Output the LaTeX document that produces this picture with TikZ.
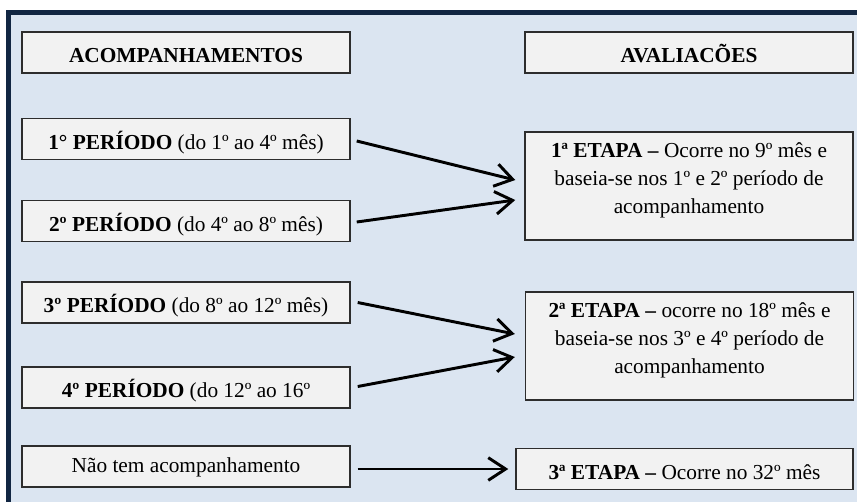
\documentclass[tikz,border=0pt]{standalone}
\usepackage{fontspec}
\setmainfont{Liberation Serif}
\usetikzlibrary{arrows.meta,calc}

\definecolor{framefill}{RGB}{219,229,241}
\definecolor{framenavy}{RGB}{17,38,66}
\definecolor{boxfill}{RGB}{242,242,242}
\definecolor{boxline}{RGB}{45,45,45}

\tikzset{every picture/.style={line width=0.75pt},
	boxbase/.style={draw=boxline, fill=boxfill, line width=1.1pt, inner sep=0pt, align=center,
		font=\fontsize{16}{21}\selectfont, minimum width=246pt, minimum height=31pt},
	box/.style={boxbase, text height=17pt, text depth=1.5pt},
	tallbox/.style={boxbase, minimum height=81pt},
	arr/.style={line width=2.2pt, -{Straight Barb[length=13pt,width=17pt,line width=2.2pt]}}
}

\begin{document}
\begin{tikzpicture}[x=0.75pt,y=0.75pt,yscale=-1,xscale=1]
	\useasboundingbox (0,0) rectangle (857,501);

	%Shape: Rectangle [frame]
	\draw [draw=framenavy, fill=framefill, line width=3.8pt] (8.5,12.5) rectangle (880,530);

	% Text Node
	\node [box] (acomp) at (186,52.5) {\textbf{ACOMPANHAMENTOS}};
	% Text Node
	\node [box] (aval) at (689,52.5) {\textbf{AVALIACÕES}};

	% Text Node
	\node [box] (per1) at (186,139) {\textbf{1° PERÍODO} (do 1º ao 4º mês)};
	% Text Node
	\node [box] (per2) at (186,221) {\textbf{2º PERÍODO} (do 4º ao 8º mês)};
	% Text Node
	\node [box] (per3) at (186,302.5) {\textbf{3º PERÍODO} (do 8º ao 12º mês)};
	% Text Node
	\node [box] (per4) at (186,387.5) {\textbf{4º PERÍODO} (do 12º ao 16º};
	% Text Node
	\node [box, text height=11pt, text depth=2pt] (nada) at (186,466.5) {Não tem acompanhamento};

	% Text Node
	\node [tallbox] (etapa1) at (689,186) {\textbf{1ª ETAPA –} Ocorre no 9º mês e\\baseia-se nos 1º e 2º período de\\acompanhamento\rule[-12.5pt]{0pt}{0pt}};
	% Text Node
	\node [tallbox] (etapa2) at (689.5,346) {\textbf{2ª ETAPA –} ocorre no 18º mês e\\baseia-se nos 3º e 4º período de\\acompanhamento\rule[-12.5pt]{0pt}{0pt}};
	% Text Node
	\node [box, minimum width=252.75pt] (etapa3) at (684.5,469) {\textbf{3ª ETAPA –} Ocorre no 32º mês};

	%Straight Lines
	\draw [arr] ($(per1.east)+(6,2)$) -- ($(etapa1.west)+(-9,-6)$);
	\draw [arr] ($(per2.east)+(6,1)$) -- ($(etapa1.west)+(-9,14)$);
	\draw [arr] ($(per3.east)+(7,0)$) -- ($(etapa2.west)+(-10,-12)$);
	\draw [arr] ($(per4.east)+(7,-1)$) -- ($(etapa2.west)+(-10,11)$);
	\draw [arr] ($(nada.east)+(7,2.5)$) -- ($(etapa3.west)+(-7,0)$);

\end{tikzpicture}
\end{document}
